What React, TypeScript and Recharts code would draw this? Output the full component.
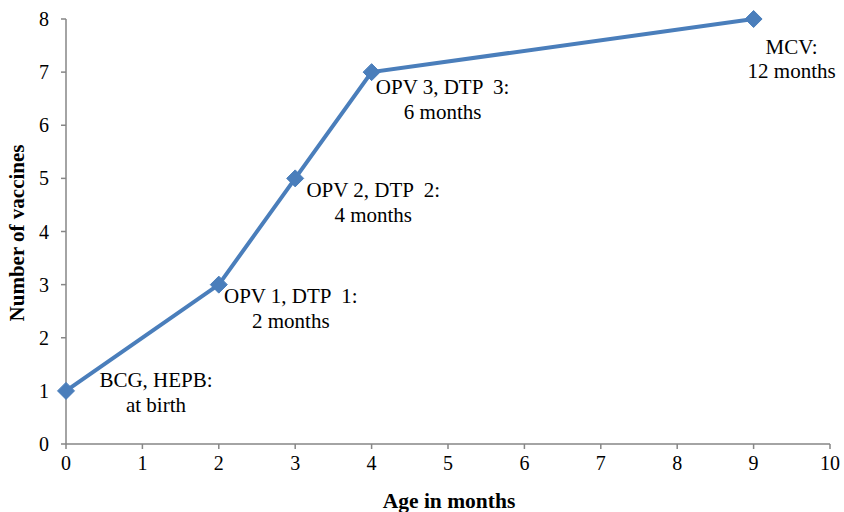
import React from "react";
import { LineChart, Line, XAxis, YAxis } from "recharts";

const ageMonths = [0, 2, 3, 4, 9];
const vaccineCounts = [1, 3, 5, 7, 8];
const labelLine1 = ["BCG, HEPB:", "OPV 1, DTP  1:", "OPV 2, DTP  2:", "OPV 3, DTP  3:", "MCV:"];
const labelLine2 = ["at birth", "2 months", "4 months", "6 months", "12 months"];
const xTicks = [0, 1, 2, 3, 4, 5, 6, 7, 8, 9, 10];
const yTicks = [0, 1, 2, 3, 4, 5, 6, 7, 8];

const data = ageMonths.map((a, i) => ({ age: a, count: vaccineCounts[i] }));

// label placement (style): [dx, dy line1, dy line2]
const LABEL_OFFSETS: number[][] = [
  [90, -4, 21],
  [72, 18, 43],
  [78, 19, 44],
  [71, 22, 47],
  [38, 35, 59],
];

const FONT = "Liberation Serif, Times New Roman, serif";
const BLUE = "#4a7ebb";
const AXIS = "#868686";

const Diamond = (props: any) => {
  const { cx, cy } = props;
  if (cx == null || cy == null) return null;
  const r = 8.5;
  return (
    <polygon
      points={`${cx},${cy - r} ${cx + r},${cy} ${cx},${cy + r} ${cx - r},${cy}`}
      fill={BLUE}
      stroke={BLUE}
      strokeWidth={1}
    />
  );
};

const PointLabel = (props: any) => {
  const { x, y, index } = props;
  const off = LABEL_OFFSETS[index];
  return (
    <g>
      <text x={x + off[0]} y={y + off[1]} textAnchor="middle" fontFamily={FONT} fontSize={21} fill="#000" xmlSpace="preserve" style={{ whiteSpace: "pre" }}>
        {labelLine1[index]}
      </text>
      <text x={x + off[0]} y={y + off[2]} textAnchor="middle" fontFamily={FONT} fontSize={21} fill="#000">
        {labelLine2[index]}
      </text>
    </g>
  );
};

export default function App() {
  return (
    <div style={{ position: "absolute", left: 0, top: 0, background: "#fff" }}>
      <LineChart width={844} height={512} data={data} margin={{ top: 19, right: 14, left: 0, bottom: 0 }}>
        <XAxis
          dataKey="age"
          type="number"
          domain={[0, 10]}
          ticks={xTicks}
          interval={0}
          height={68}
          tickSize={5}
          tickMargin={7}
          stroke={AXIS}
          strokeWidth={1.5}
          tick={{ fill: "#000", fontFamily: FONT, fontSize: 20 }}
          label={(p: any) => (
            <text x={449} y={508} textAnchor="middle" fontFamily={FONT} fontSize={21.5} fontWeight="bold" fill="#000">
              Age in months
            </text>
          )}
        />
        <YAxis
          type="number"
          domain={[0, 8]}
          ticks={yTicks}
          interval={0}
          width={66}
          tickSize={5}
          tickMargin={12}
          stroke={AXIS}
          strokeWidth={1.5}
          tick={{ fill: "#000", fontFamily: FONT, fontSize: 20 }}
          label={(p: any) => (
            <text x={17} y={233} transform="rotate(-90 17 233)" textAnchor="middle" dominantBaseline="central" fontFamily={FONT} fontSize={21} fontWeight="bold" fill="#000">
              Number of vaccines
            </text>
          )}
        />
        <Line
          dataKey="count"
          stroke={BLUE}
          strokeWidth={4}
          dot={<Diamond />}
          activeDot={false}
          label={<PointLabel />}
          isAnimationActive={false}
        />
      </LineChart>
    </div>
  );
}
